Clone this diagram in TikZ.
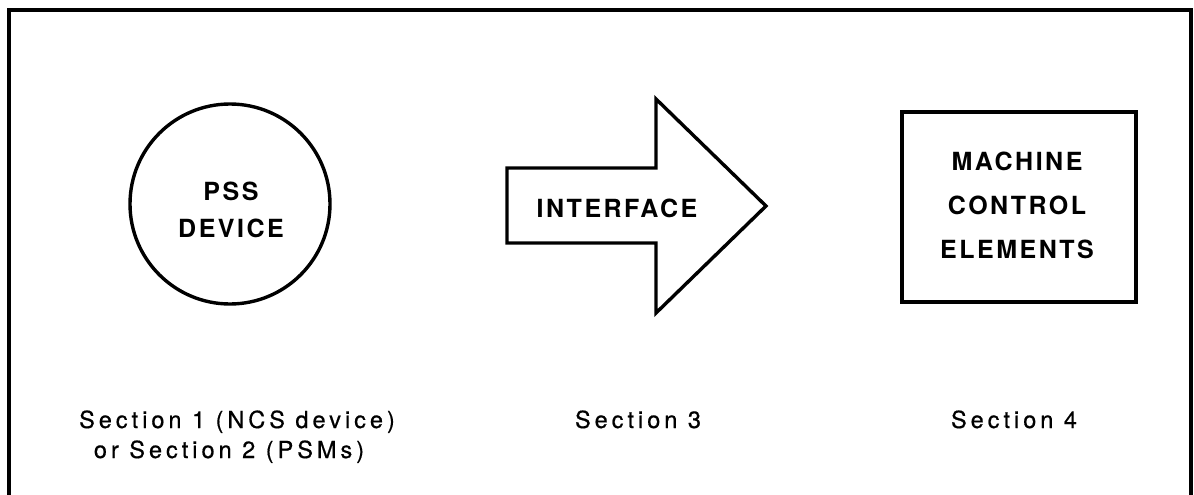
\documentclass[tikz,border=0pt]{standalone}
\usepackage{fontspec}
\setmainfont{TeX Gyre Heros}
\newfontfamily\labfont[LetterSpace=17,FakeBold=0.6]{TeX Gyre Heros}
\newfontfamily\shapefont[LetterSpace=10]{TeX Gyre Heros}
\tikzset{
  outline/.style={line width=3.4pt, line join=miter},
  shapetext/.style={inner sep=0pt, align=center, font=\shapefont\bfseries\fontsize{25}{44}\selectfont},
  seclabel/.style={inner sep=0pt, anchor=base, font=\labfont\fontsize{23.5}{30}\selectfont},
}
\begin{document}
\begin{tikzpicture}[x=1pt,y=-1pt]
\useasboundingbox (0,0) rectangle (1194,495);
% outer frame (open at the bottom edge)
\draw[outline] (9,500) -- (9,10) -- (1191,10) -- (1191,500);
% PSS device circle
\node[outline, draw, circle, minimum size=200pt, inner sep=0pt] (pss) at (230,204) {};
\node[shapetext, font=\shapefont\bfseries\fontsize{25}{37}\selectfont] (psst) at (231,210) {PSS\\DEVICE};
% interface arrow
\coordinate (a1) at (507,168);
\coordinate (a2) at (656,168);
\coordinate (a3) at (656,99);
\coordinate (a4) at (766,206);
\coordinate (a5) at (656,313);
\coordinate (a6) at (656,243);
\coordinate (a7) at (507,243);
\draw[outline] (a1) -- (a2) -- (a3) -- (a4) -- (a5) -- (a6) -- (a7) -- cycle;
\node[shapetext] (iface) at (617,208) {INTERFACE};
% machine control elements box
\node[outline, draw, rectangle, minimum width=234pt, minimum height=190pt, inner sep=0pt] (mce) at (1019,207) {};
\node[shapetext] (mcet) at (1017,205) {MACHINE\\CONTROL\\ELEMENTS};
% section labels
\node[seclabel] (sec1a) at (237,428) {Section 1 (NCS device)};
\node[seclabel] (sec1b) at (229,458) {or Section 2 (PSMs)};
\node[seclabel] (sec3) at (638,428) {Section 3};
\node[seclabel] (sec4) at (1014,428) {Section 4};
\end{tikzpicture}
\end{document}
